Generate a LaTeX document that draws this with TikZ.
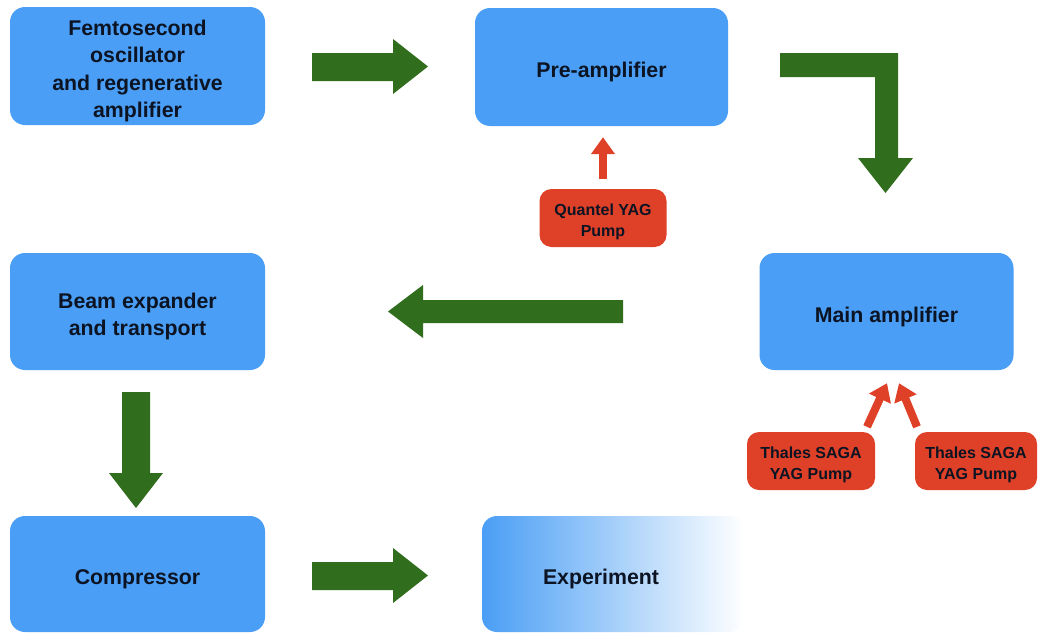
\documentclass[tikz,border=0pt]{standalone}
\usepackage{fontspec}
\setmainfont{Liberation Sans}
\usetikzlibrary{arrows.meta,calc}
\definecolor{boxblue}{RGB}{74,158,245}
\definecolor{arrgreen}{RGB}{48,110,30}
\definecolor{pumpred}{RGB}{222,64,40}
\definecolor{txt}{RGB}{12,20,35}
\newcommand{\stagestrut}{\rule{0pt}{25.5pt}}
\newcommand{\pumpstrut}{\rule{0pt}{19.7pt}}
\tikzset{
  stage/.style={fill=boxblue, rounded corners=15pt, text=txt, inner sep=0pt,
    font=\fontsize{21.3}{27.3}\selectfont\bfseries, align=center},
  pumpbox/.style={fill=pumpred, rounded corners=12pt, text=txt, inner sep=0pt,
    font=\fontsize{16}{20.5}\selectfont\bfseries, align=center},
  blockarrow/.style={fill=arrgreen},
  pumparrow/.style={draw=pumpred, line width=8pt,
    -{Triangle[width=23pt,length=17pt]}}
}
\begin{document}
\begin{tikzpicture}[x=1pt,y=-1pt]
\useasboundingbox (0,0) rectangle (1039,632);
\fill[white] (0,0) rectangle (1039,632);

% stages
\node[stage, minimum width=255pt, minimum height=118pt] (femto) at (137.5,66)
  {\stagestrut Femtosecond\\oscillator\\and regenerative\\amplifier};
\node[stage, minimum width=253pt, minimum height=118pt] (preamp) at (601.5,67)
  {\stagestrut Pre-amplifier};
\node[stage, minimum width=254pt, minimum height=117pt] (mainamp) at (886.5,311.5)
  {\stagestrut Main amplifier};
\node[stage, minimum width=255pt, minimum height=117pt] (beam) at (137.5,311.5)
  {\stagestrut Beam expander\\and transport};
\node[stage, minimum width=255pt, minimum height=116pt] (comp) at (137.5,574)
  {\stagestrut Compressor};
\node[stage, fill=none, left color=boxblue, right color=white, minimum width=262pt,
  minimum height=116pt] (exp) at (613,574) {};
\node[stage, fill=none] (explabel) at (601,574) {\stagestrut Experiment};

% pumps
\node[pumpbox, minimum width=127pt, minimum height=58pt] (quantel) at (603,218)
  {\pumpstrut Quantel YAG\\Pump};
\node[pumpbox, minimum width=128pt, minimum height=58pt] (thalesA) at (811,461)
  {\pumpstrut Thales SAGA\\YAG Pump};
\node[pumpbox, minimum width=122pt, minimum height=58pt] (thalesB) at (976,461)
  {\pumpstrut Thales SAGA\\YAG Pump};

% green block arrows
\fill[blockarrow] (312,53) -- (393,53) -- (393,39) -- (428,66.5) -- (393,94)
  -- (393,81) -- (312,81) -- cycle;
\fill[blockarrow] (780,53) -- (898,53) -- (898,158) -- (913,158) -- (885.5,193)
  -- (858,158) -- (875,158) -- (875,77) -- (780,77) -- cycle;
\fill[blockarrow] (623,300) -- (423,300) -- (423,285) -- (388,311.5) -- (423,338)
  -- (423,323) -- (623,323) -- cycle;
\fill[blockarrow] (122,392) -- (150,392) -- (150,473) -- (163,473) -- (136,508)
  -- (109,473) -- (122,473) -- cycle;
\fill[blockarrow] (312,562) -- (393,562) -- (393,548) -- (428,575.5) -- (393,603)
  -- (393,590) -- (312,590) -- cycle;

% pump arrows
\draw[pumparrow] ($(quantel.north)+(0,-10)$) -- ($(preamp.south -| quantel.north)+(0,11)$);
\draw[pumparrow] ($(thalesA.north)+(56,-5)$) -- ($(mainamp.south)+(0.5,13)$);
\draw[pumparrow] ($(thalesB.north)+(-59,-5)$) -- ($(mainamp.south)+(12.5,13)$);
\end{tikzpicture}
\end{document}
